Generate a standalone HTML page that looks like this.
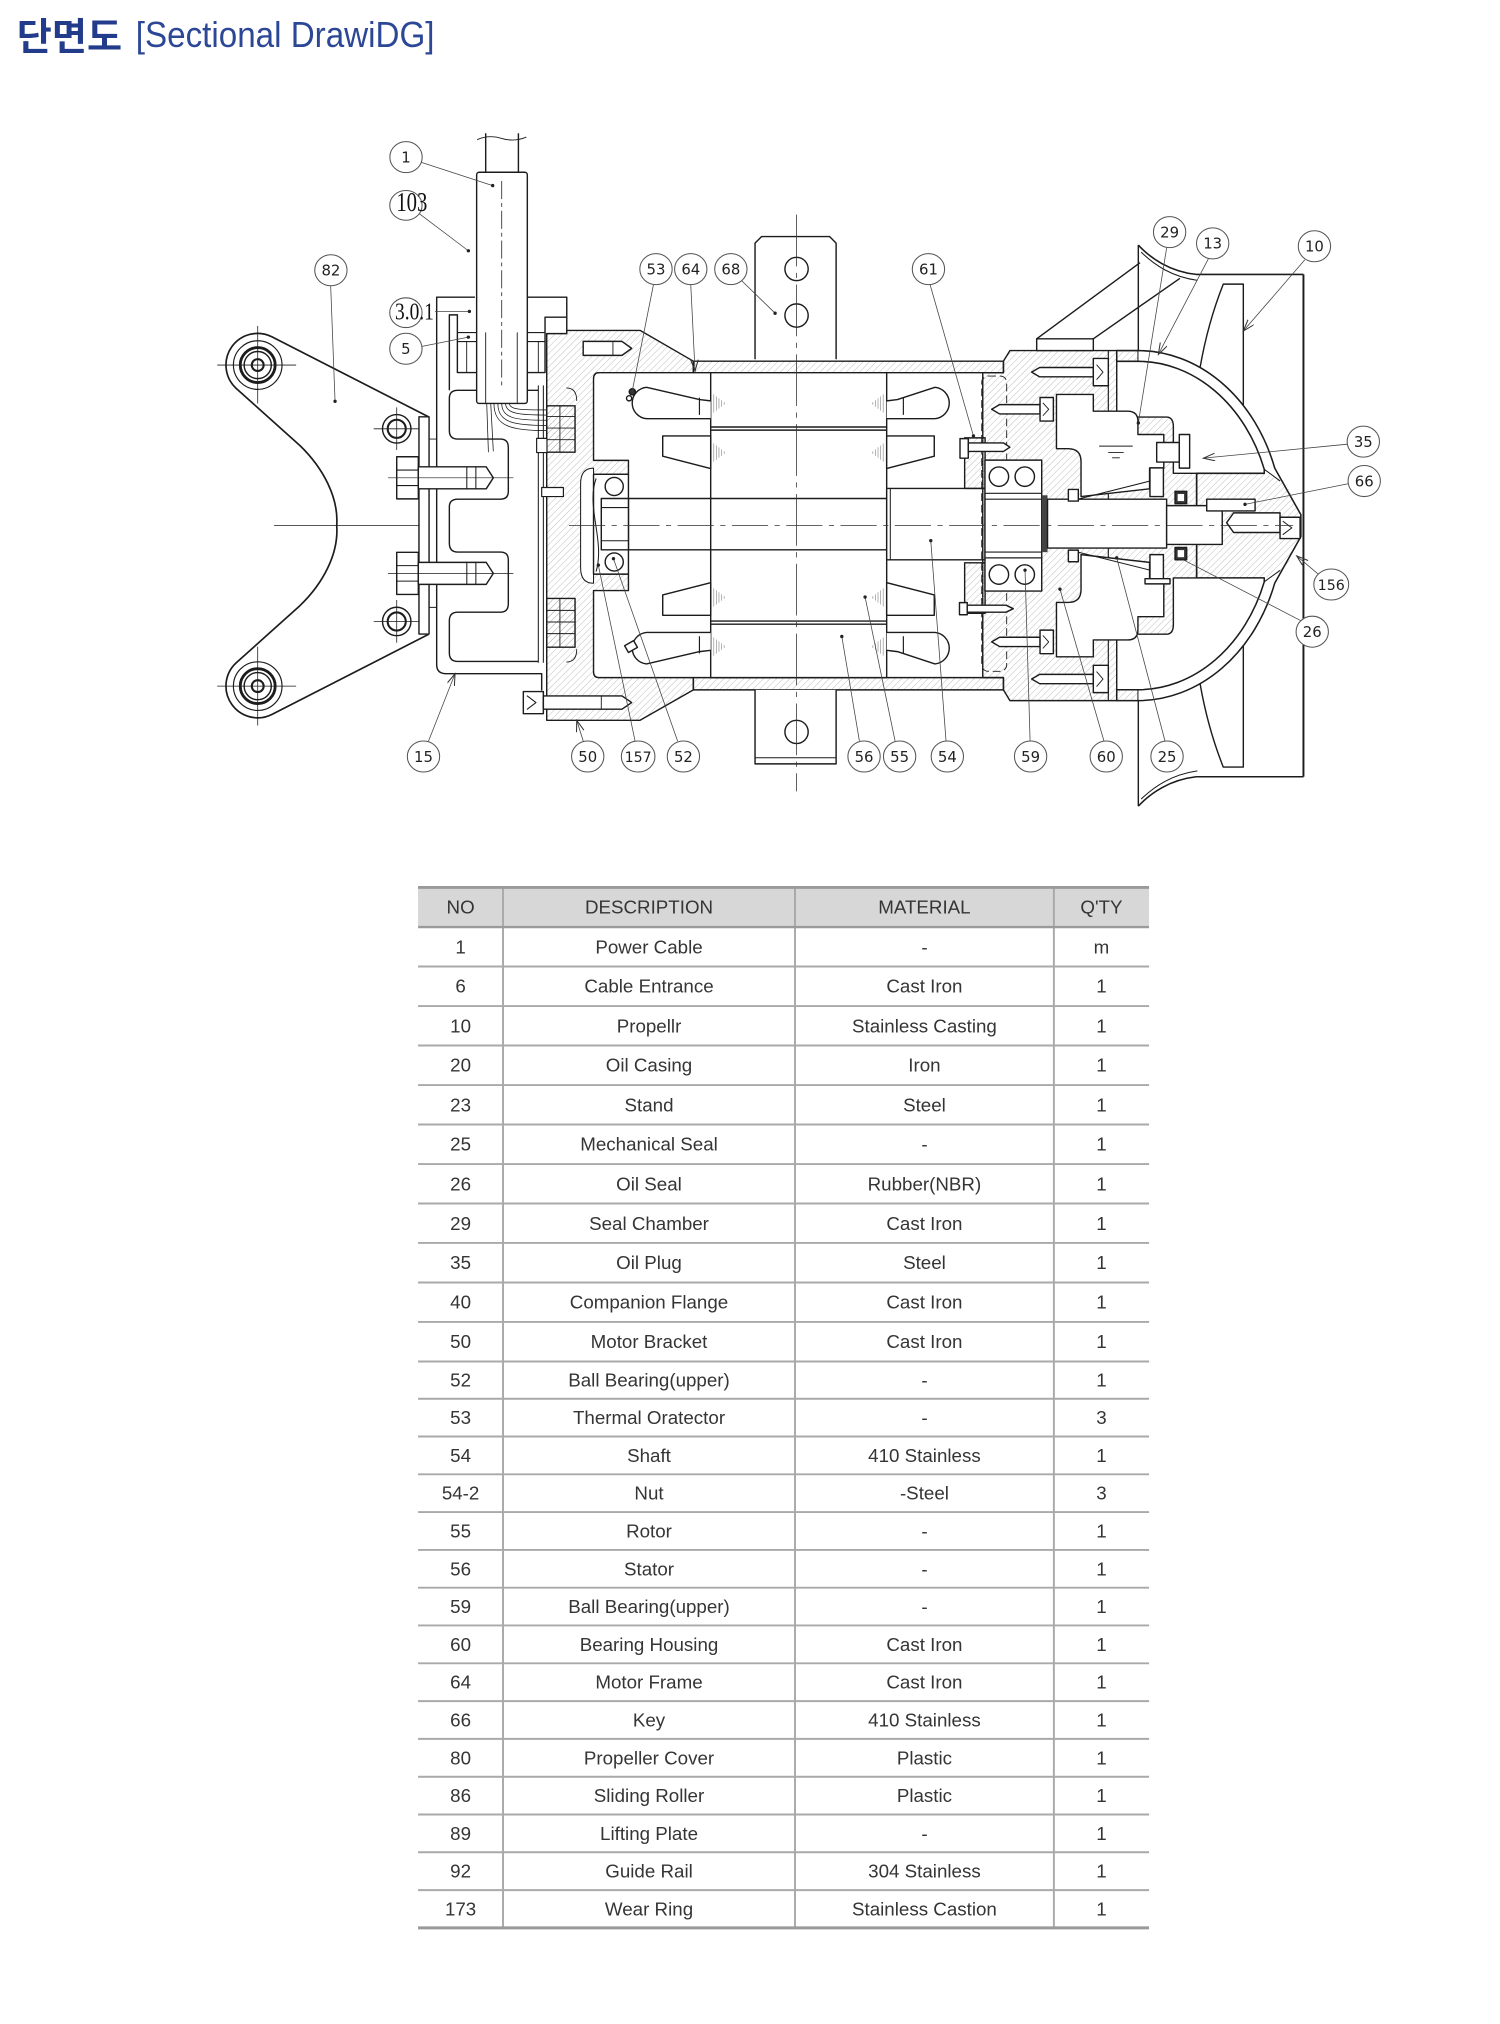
<!DOCTYPE html>
<html><head><meta charset="utf-8"><style>
html,body{margin:0;padding:0;background:#fff;}
svg{display:block;}
</style></head><body>
<svg xmlns="http://www.w3.org/2000/svg" width="1500" height="2024" viewBox="0 0 1160 1565.2">
<defs>
<pattern id="h" width="3.6" height="3.6" patternUnits="userSpaceOnUse" patternTransform="rotate(45)"><line x1="0" y1="0" x2="0" y2="3.6" stroke="#9c9c9c" stroke-width="0.5"/></pattern>
<marker id="ar" markerWidth="10" markerHeight="8" refX="9" refY="3" orient="auto" markerUnits="userSpaceOnUse"><path d="M0,0 L9,3 L0,6" fill="none" stroke="#333" stroke-width="0.8"/></marker>
</defs>
<rect x="0" y="0" width="1160" height="1565.2" fill="#fff"/>

<!-- Title -->
<text x="13" y="38.5" font-family="'Liberation Sans','Noto Sans CJK KR',sans-serif" font-weight="bold" font-size="29.5" fill="#233b8b">단면도</text>
<text x="105" y="36.3" font-family="'Liberation Sans','Noto Sans CJK KR',sans-serif" font-size="28" fill="#2c4796" textLength="231" lengthAdjust="spacingAndGlyphs">[Sectional DrawiDG]</text>

<!-- ================= DIAGRAM ================= -->
<g fill="none" stroke="#1c1c1c" stroke-width="1.1" stroke-linejoin="round">

<!-- Bracket 82 -->
<path d="M331.3,322.3 L210.4,260.5 A24.5,24.5 0 0 0 182.4,300.1 L232,344.6 C250,362 262,385 260.4,406.4 C262,428 250,451 232,468.3 L182.4,512.8 A24.5,24.5 0 0 0 210.4,552.4 L331.3,490.6" stroke-width="1.3"/>
<g>
<circle cx="199.3" cy="282.3" r="18.8" stroke-width="0.9"/>
<circle cx="199.3" cy="282.3" r="13.5" stroke-width="2.2"/>
<circle cx="199.3" cy="282.3" r="10.5"/>
<circle cx="199.3" cy="282.3" r="4.6" stroke-width="1.6"/>
<circle cx="199.3" cy="530.6" r="18.8" stroke-width="0.9"/>
<circle cx="199.3" cy="530.6" r="13.5" stroke-width="2.2"/>
<circle cx="199.3" cy="530.6" r="10.5"/>
<circle cx="199.3" cy="530.6" r="4.6" stroke-width="1.6"/>
<circle cx="306.8" cy="331.6" r="11"/>
<circle cx="306.8" cy="331.6" r="7" stroke-width="1.6"/>
<circle cx="306.8" cy="480.6" r="11"/>
<circle cx="306.8" cy="480.6" r="7" stroke-width="1.6"/>
</g>
<g stroke-width="0.6">
<path d="M168,282.3 H229 M199.3,252 V312 M168,530.6 H229 M199.3,500 V561"/>
<path d="M289,331.6 H324 M306.8,315 V348 M289,480.6 H324 M306.8,464 V497"/>
<path d="M212,406.4 H324"/>
</g>

<!-- guide plate -->
<rect x="324" y="322.3" width="7.8" height="168" fill="#fff"/>

<!-- Cover 15 -->
<path d="M367.3,229.8 H337.7 V514 Q337.7,521 345,521 H418.9 V534"/>
<path d="M407.8,229.8 H438.3 V258"/>
<path d="M347.5,301.8 V243.5 H353.7 V288.1 H368.6"/>
<path d="M407.8,288.1 H421.5 V245.3 H438.3"/>
<path d="M353.7,257.2 H421.5 M353.7,264.1 H421.5" stroke-width="0.9"/>
<path d="M360.9,264.1 V288.1 M416.3,264.1 V288.1" stroke-width="0.7"/>
<path d="M416.3,301.8 H354 Q347.5,301.8 347.5,308 V333 Q347.5,339.5 354,339.5 H387 Q393.1,339.5 393.1,346 V380 Q393.1,386 387,386 H354 Q347.5,386 347.5,392 V420 Q347.5,426.9 354,426.9 H387 Q393.1,426.9 393.1,433 V467 Q393.1,473.4 387,473.4 H354 Q347.5,473.4 347.5,480 V505 Q347.5,511.5 354,511.5 H416.3"/>
<path d="M331.8,339.5 H337.7 M331.8,469.7 H337.7" stroke-width="0.7"/>

<!-- Motor bracket 50 (hatched) -->
<path d="M438.3,255.5 H495 L536.2,279.3 V288.2 H463 Q459,288.2 459,293 V356 H486 V366.8 H459 V444 H486 V456.7 H459 V519.5 Q459,524 463,524 H536.2 V533.5 L495,557 H422.8 V258 H438.3 Z" fill="url(#h)"/>
<path d="M416.3,298 V512.5 M420.2,298 V512.5" stroke-width="0.8"/>
<path d="M459,362 Q449,362 449,374 V439 Q449,451 459,451 Z" fill="#fff" stroke-width="0.8"/>
<path d="M438,300 Q446,300 446,310 M438,512 Q446,512 446,502" stroke-width="0.7"/>

<!-- terminal blocks -->
<rect x="422.8" y="313.8" width="21.9" height="35.9" fill="url(#h)"/>
<path d="M422.8,322 H444.7 M422.8,331 H444.7 M422.8,340 H444.7 M433,313.8 V349.7" stroke-width="0.7"/>
<rect x="422.8" y="462.8" width="21.9" height="37.7" fill="url(#h)"/>
<path d="M422.8,472 H444.7 M422.8,481 H444.7 M422.8,490 H444.7 M433,462.8 V500.5" stroke-width="0.7"/>
<rect x="415" y="339" width="8" height="11" fill="#fff" stroke-width="0.9"/>
<rect x="418.9" y="377" width="16.8" height="7" fill="#fff" stroke-width="0.9"/>

<!-- cable -->
<path d="M375.6,103 V133.2 M400.9,103 V133.2"/>
<path d="M369,108 Q378,104 388,107 T407,106" stroke-width="0.7"/>
<rect x="368.6" y="133.2" width="39.2" height="178.8" rx="2" fill="#fff"/>
<path d="M375.6,257 V312 M400,257 V312" stroke-width="0.7"/>
<path d="M388,140 V300" stroke-width="0.6" stroke-dasharray="14 3 3 3"/>
<g stroke-width="0.6">
<path d="M382,312 C382,330 396,333 423,333"/>
<path d="M385,312 C385,327 398,329 423,329"/>
<path d="M388,312 C388,324 400,325 423,325"/>
<path d="M391,312 C391,320 402,321 423,321"/>
<path d="M394,312 C394,317 404,317 423,317"/>
<path d="M376.4,312 L377.7,349.7 M379.5,312 L381.5,349"/>
</g>

<!-- cover bolts -->
<g fill="#fff">
<rect x="306.8" y="353.2" width="16.7" height="32.6"/>
<path d="M306.8,363.5 H323.5 M306.8,375.5 H323.5" stroke-width="0.8"/>
<path d="M323.5,361 H368 L376,361 L381.5,369.5 L376,378 H323.5 Z"/>
<path d="M361,361 V378 M368,361 V378" stroke-width="0.8"/>
<rect x="306.8" y="427.1" width="16.7" height="32.6"/>
<path d="M306.8,437.4 H323.5 M306.8,449.4 H323.5" stroke-width="0.8"/>
<path d="M323.5,434.9 H368 L376,434.9 L381.5,443.4 L376,451.9 H323.5 Z"/>
<path d="M361,434.9 V451.9 M368,434.9 V451.9" stroke-width="0.8"/>
</g>
<path d="M300,369.5 H397 M300,443.4 H397" stroke-width="0.5"/>

<!-- bracket bolts -->
<path d="M451,264 H481 L488.5,269.4 L481,274.8 H451 Z" fill="#fff"/>
<path d="M474,264 V274.8" stroke-width="0.7"/>
<rect x="404.7" y="534.8" width="15.5" height="17.1" fill="#fff"/>
<path d="M407.5,538 L414.5,543.3 L407.5,548.6" stroke-width="0.8"/>
<path d="M420.2,538.2 H481 L488.5,543.3 L481,548.4 H420.2 Z" fill="#fff"/>
<path d="M465,538.2 V548.4" stroke-width="0.7"/>

<!-- Bearing 52 -->
<rect x="459" y="366.8" width="27" height="77.1" fill="#fff"/>
<circle cx="475" cy="376.2" r="7"/>
<circle cx="475" cy="434.6" r="7"/>
<rect x="465" y="385.5" width="21" height="39.7" fill="#fff"/>
<path d="M465,392.5 H486 M465,418.2 H486" stroke-width="0.8"/>
<path d="M461,370 C453,392 468,418 461,442" stroke-width="0.8"/>

<!-- Frame bands -->
<path d="M536.2,279.3 H776 V288.2 H536.2 Z" fill="url(#h)"/>
<path d="M536.2,524 H776 V533.5 H536.2 Z" fill="url(#h)"/>

<!-- Lifting plates -->
<path d="M583.9,277.8 V188 L589,182.9 H641.5 L646.6,188 V277.8" fill="#fff"/>
<circle cx="616" cy="208" r="9"/>
<circle cx="616" cy="244" r="9"/>
<path d="M583.9,533.5 V590.7 H646.6 V533.5" fill="#fff"/>
<path d="M583.9,586 H646.6" stroke-width="0.8"/>
<circle cx="616" cy="566" r="9"/>

<!-- Stator / rotor -->
<rect x="549.6" y="288.2" width="136.1" height="235.8" fill="#fff"/>
<path d="M549.6,330.2 H685.7 M549.6,332.6 H685.7 M549.6,480.3 H685.7 M549.6,482.7 H685.7"/>
<path d="M486,385.5 H685.7 M486,425.2 H685.7"/>
<rect x="685.7" y="377.7" width="76.1" height="55.2" fill="#fff"/>
<path d="M688.5,377.7 V432.9" stroke-width="0.8"/>

<!-- coils -->
<g fill="#fff">
<path d="M549.6,310 L541,309 L500,299.5 A12.2,12.2 0 0 0 500,323.8 H549.6"/>
<path d="M685.7,310 L694,309 L723,299.5 A12.2,12.2 0 0 1 723,323.8 H685.7"/>
<path d="M549.6,502.9 L541,503.9 L500,513.4 A12.2,12.2 0 0 1 500,489.1 H549.6"/>
<path d="M685.7,502.9 L694,503.9 L723,513.4 A12.2,12.2 0 0 0 723,489.1 H685.7"/>
<path d="M512.5,337.1 H549.6 V362.3 L512.5,352.8 Z"/>
<path d="M685.7,337.1 H722.5 V352.8 L685.7,362.3 Z"/>
<path d="M512.5,475.8 H549.6 V450.6 L512.5,460.1 Z"/>
<path d="M685.7,475.8 H722.5 V460.1 L685.7,450.6 Z"/>
</g>
<path d="M540.9,307.5 V320.8 M698.6,307.5 V320.8 M540.9,492 V505.3 M698.6,492 V505.3" stroke-width="0.9"/>
<g stroke="#8a8a8a" stroke-width="0.5">
<path d="M552,305 V319 M554,306.5 V317.5 M556,308 V316 M558,309.5 V314.5 M560,311 V313"/>
<path d="M552,343 V357 M554,344.5 V355.5 M556,346 V354 M558,347.5 V352.5 M560,349 V351"/>
<path d="M552,455 V469 M554,456.5 V467.5 M556,458 V466 M558,459.5 V464.5 M560,461 V463"/>
<path d="M552,493 V507 M554,494.5 V505.5 M556,496 V504 M558,497.5 V502.5 M560,499 V501"/>
<path d="M683,305 V319 M681,306.5 V317.5 M679,308 V316 M677,309.5 V314.5 M675,311 V313"/>
<path d="M683,343 V357 M681,344.5 V355.5 M679,346 V354 M677,347.5 V352.5 M675,349 V351"/>
<path d="M683,455 V469 M681,456.5 V467.5 M679,458 V466 M677,459.5 V464.5 M675,461 V463"/>
<path d="M683,493 V507 M681,494.5 V505.5 M679,496 V504 M677,497.5 V502.5 M675,499 V501"/>
</g>
<!-- thermal protector -->
<circle cx="489" cy="303" r="2.4" fill="#333"/>
<circle cx="486.5" cy="308" r="2"/>
<rect x="484" y="497" width="8" height="6" fill="#fff" transform="rotate(-30 488 500)"/>

<!-- Bearing housing + seal chamber (hatched) -->
<path d="M776,279.3 L781,271.1 H863.6 V322.5 H902 Q907.4,322.5 907.4,330 V366 H925.4 V446.9 H907.4 V482.9 Q907.4,490.4 902,490.4 H863.6 V541.8 H781 L776,533.5 V524 H760 V288.2 H776 Z" fill="url(#h)"/>
<rect x="746" y="338.6" width="15.8" height="39.1" fill="url(#h)"/>
<rect x="746" y="435.2" width="15.8" height="39.1" fill="url(#h)"/>
<path d="M857.1,271.1 V541.8" stroke-width="0.9"/>
<rect x="759.2" y="290.8" width="19.3" height="228.3" rx="5" stroke-width="0.7" stroke-dasharray="6 3"/>

<!-- oil chambers -->
<path d="M817,305 H845.5 V318 H872 Q880,318 880,326 V336 H900 V362 H889 V378 L836,384 V357 Q836,347 826,347 H817 Z" fill="#fff"/>
<path d="M817,507.9 H845.5 V494.9 H872 Q880,494.9 880,486.9 V476.9 H900 V450.9 H889 V434.9 L836,428.9 V455.9 Q836,465.9 826,465.9 H817 Z" fill="#fff"/>
<path d="M850,345 H876 M857,350 H869 M860,354 H866" stroke-width="0.7"/>

<!-- Hub (propeller boss 13) -->
<path d="M925.4,366 H977.7 L993.8,372 L1006,398 V415 L993.8,441 L977.7,446.9 H925.4 Z" fill="url(#h)" stroke="none"/>
<path d="M863.6,271.1 H880 A112,135 0 0 1 985.8,362 L1006,398 V415 L985.8,450.9 A112,135 0 0 1 880,541.8 H863.6 V533.4 H880 A104,127 0 0 0 977.7,449.9 V446.9 H925.4 V366 H977.7 V362.9 A104,127 0 0 0 880,279.4 H863.6 Z" stroke-width="1.2"/>
<path d="M863.6,271.1 H880 V279.4 H863.6 Z M863.6,533.4 H880 V541.8 H863.6 Z" fill="url(#h)" stroke-width="0.8"/>
<path d="M977.7,362.9 L990,372 M977.7,449.9 L990,441" stroke-width="0.8"/>

<!-- Bearing 59 -->
<rect x="761.7" y="355.8" width="43.9" height="101.3" fill="#fff"/>
<path d="M761.7,381.5 H805.6 M761.7,431.4 H805.6 M761.7,386 H805.6 M761.7,426.9 H805.6" stroke-width="0.9"/>
<circle cx="772.5" cy="368.6" r="7.5"/>
<circle cx="792.5" cy="368.6" r="7.5"/>
<circle cx="772.5" cy="444.3" r="7.5"/>
<circle cx="792.5" cy="444.3" r="7.5"/>
<rect x="805.6" y="383" width="4.5" height="44" fill="#444" stroke="none"/>

<!-- shaft right -->
<rect x="810.1" y="386" width="92.1" height="37.8" fill="#fff"/>
<rect x="902.2" y="391" width="43" height="30" fill="#fff"/>

<!-- mechanical seal -->
<rect x="889.3" y="361.8" width="10.4" height="22.2" fill="#fff"/>
<rect x="889.3" y="428.9" width="10.4" height="22.2" fill="#fff"/>
<path d="M827.5,387.5 L889.3,372 M827.5,425.4 L889.3,440.9" stroke-width="0.8"/>
<rect x="826.2" y="378.5" width="7.7" height="9" fill="#fff"/>
<rect x="826.2" y="425.4" width="7.7" height="9" fill="#fff"/>

<!-- oil seal 26 -->
<rect x="908.7" y="380" width="9" height="9.5" fill="#333"/>
<rect x="910.7" y="382" width="5" height="5.5" fill="#fff" stroke="none"/>
<rect x="908.7" y="423.4" width="9" height="9.5" fill="#333"/>
<rect x="910.7" y="425.4" width="5" height="5.5" fill="#fff" stroke="none"/>

<!-- oil plug 35 -->
<rect x="894.5" y="342.2" width="17.5" height="15.1" fill="#fff"/>
<rect x="912" y="336" width="8" height="26" fill="#fff"/>

<!-- key & nose bolt -->
<rect x="933.2" y="386" width="37.4" height="9.1" fill="#fff"/>
<path d="M948.6,404.2 L954,396.6 H989.9 V411.8 H954 Z" fill="#fff"/>
<rect x="989.9" y="400" width="15.5" height="16.5" fill="#fff"/>
<path d="M992,403 L999,408.2 L992,413.5" stroke-width="0.8"/>

<!-- housing bolts -->
<g fill="#fff">
<path d="M797.8,287.8 L804,284.2 H845.5 V291.4 H804 Z"/>
<rect x="845.5" y="277.2" width="11.6" height="21.1"/>
<path d="M766.9,316.5 L773,312.9 H804.3 V320.1 H773 Z"/>
<rect x="804.3" y="307.4" width="10.3" height="18.2"/>
<rect x="742.4" y="339.2" width="6.4" height="15.1"/>
<path d="M748.8,342.5 H776 L781,345.8 L776,349.1 H748.8 Z"/>
<rect x="742" y="466" width="6" height="9.4"/>
<path d="M748,468 H778 L783.6,470.7 L778,473.4 H748 Z"/>
<path d="M766.9,496.4 L773,492.8 H804.3 V500 H773 Z"/>
<rect x="804.3" y="487.3" width="10.3" height="18.2"/>
<path d="M797.8,525.1 L804,521.5 H845.5 V528.7 H804 Z"/>
<rect x="845.5" y="514.5" width="11.6" height="21.1"/>
<path d="M885.5,447.5 H904.8 V451.5 H885.5 Z"/>
</g>
<path d="M848,282 L853,287.8 L848,293.6 M848,519.3 L853,525.1 L848,530.9 M806.5,311.5 L811,316.5 L806.5,321.5 M806.5,491.4 L811,496.4 L806.5,501.4" stroke-width="0.7"/>

<!-- stand & guard -->
<rect x="801.7" y="262" width="43.8" height="9.1" fill="#fff"/>
<path d="M801.7,262 L881.6,203.1 M845.5,262 L912.5,215.2"/>
<path d="M880.3,189.5 V271.1 M880.3,541.8 V623.4"/>
<path d="M880.3,189.5 C890,200 905,210 925,212.2 H1008" stroke-width="1.2"/>
<path d="M882.5,195 C893,205 906,214 926,216.8" stroke-width="0.8"/>
<path d="M880.3,623.4 C890,613 905,603 925,600.7 H1008" stroke-width="1.2"/>
<path d="M882.5,617.9 C893,608 906,599 926,596.1" stroke-width="0.8"/>
<path d="M1008,212.2 V600.7" stroke-width="1.5"/>
<path d="M928,284.5 Q934,250 946,219.7 H961.5 V313.8"/>
<path d="M928,528.4 Q934,563 946,593.2 H961.5 V499.1"/>
</g>

<!-- centerlines -->
<g fill="none" stroke="#333" stroke-width="0.6">
<path d="M440,406.4 H1000" stroke-dasharray="28 5 4 5"/>
<path d="M616,166 V612" stroke-dasharray="40 5 4 5"/>
</g>

<!-- Leaders -->
<g fill="none" stroke="#444" stroke-width="0.6">
<path d="M325,125.3 L381,143.5"/>
<path d="M323.5,164.7 L362.2,193.9"/>
<path d="M255.7,220.5 L259.1,310.3"/>
<path d="M336.4,240.8 L363,240.8"/>
<path d="M325.5,268 L362.2,260.7"/>
<path d="M505.3,220.3 L489,302"/>
<path d="M534.2,220.3 L537.5,287" marker-end="url(#ar)"/>
<path d="M573.5,217 L599.4,242.2"/>
<path d="M719.3,220.3 L752.8,337.1"/>
<path d="M902.2,191.7 L880.3,327.1"/>
<path d="M934.5,200 L895.8,274.1" marker-end="url(#ar)"/>
<path d="M1009,201 L961.5,256" marker-end="url(#ar)"/>
<path d="M1042,343.5 L930.6,354.3" marker-end="url(#ar)"/>
<path d="M1043,374 L962.8,390"/>
<path d="M1019.5,444 L1002.8,429.9" marker-end="url(#ar)"/>
<path d="M1006,480 L915.1,432.9"/>
<path d="M331.3,573.3 L351.9,521" marker-end="url(#ar)"/>
<path d="M451.1,573.3 L446,557" marker-end="url(#ar)"/>
<path d="M491.1,573 L462.7,437"/>
<path d="M524,573 L474.4,432"/>
<path d="M664.6,573 L651,492.2"/>
<path d="M692.2,573 L669,461.7"/>
<path d="M731.6,573 L719.8,418.1"/>
<path d="M796.6,573 L792.7,440.9"/>
<path d="M853.8,573.3 L819.7,455.6"/>
<path d="M901,573.3 L863.6,431.4"/>
</g>
<g fill="#222">
<circle cx="381" cy="143.5" r="1.3"/><circle cx="362.2" cy="193.9" r="1.3"/><circle cx="259.1" cy="310.3" r="1.3"/>
<circle cx="363" cy="240.8" r="1.3"/><circle cx="362.2" cy="260.7" r="1.3"/><circle cx="599.4" cy="242.2" r="1.3"/>
<circle cx="752.8" cy="337.1" r="1.3"/><circle cx="880.3" cy="327.1" r="1.3"/><circle cx="962.8" cy="390" r="1.3"/>
<circle cx="462.7" cy="437" r="1.3"/><circle cx="474.4" cy="432" r="1.3"/><circle cx="651" cy="492.2" r="1.3"/>
<circle cx="669" cy="461.7" r="1.3"/><circle cx="719.8" cy="418.1" r="1.3"/><circle cx="792.7" cy="440.9" r="1.3"/>
<circle cx="819.7" cy="455.6" r="1.3"/><circle cx="863.6" cy="431.4" r="1.3"/>
</g>

<!-- Balloons -->
<g fill="#fff" stroke="#555" stroke-width="0.8">
<ellipse cx="314" cy="121.5" rx="12.5" ry="12"/>
<ellipse cx="313.9" cy="158.8" rx="12.5" ry="11.5"/>
<ellipse cx="255.9" cy="209" rx="12.5" ry="12"/>
<ellipse cx="313.9" cy="241.8" rx="12.5" ry="11.5"/>
<ellipse cx="313.9" cy="269.7" rx="12.5" ry="12"/>
<ellipse cx="507.3" cy="208.1" rx="12.5" ry="12"/>
<ellipse cx="534.2" cy="208.1" rx="12.5" ry="12"/>
<ellipse cx="565.2" cy="208.1" rx="12.5" ry="12"/>
<ellipse cx="718" cy="208.1" rx="12.5" ry="12"/>
<ellipse cx="904.5" cy="179.5" rx="12.5" ry="12"/>
<ellipse cx="937.8" cy="188.2" rx="12.5" ry="12"/>
<ellipse cx="1016.5" cy="190.4" rx="12.5" ry="12"/>
<ellipse cx="1054.3" cy="341.5" rx="12.5" ry="12"/>
<ellipse cx="1055" cy="372" rx="12.5" ry="12"/>
<ellipse cx="1029.5" cy="452" rx="13.5" ry="12"/>
<ellipse cx="1014.8" cy="488.5" rx="12.5" ry="12"/>
<ellipse cx="327.5" cy="585" rx="12.5" ry="12"/>
<ellipse cx="454.5" cy="585" rx="12.5" ry="12"/>
<ellipse cx="493.5" cy="585" rx="13" ry="12"/>
<ellipse cx="528.5" cy="585" rx="12.5" ry="12"/>
<ellipse cx="668.2" cy="585" rx="12.5" ry="12"/>
<ellipse cx="695.7" cy="585" rx="12.5" ry="12"/>
<ellipse cx="732.6" cy="585" rx="12.5" ry="12"/>
<ellipse cx="797" cy="585" rx="12.5" ry="12"/>
<ellipse cx="855.5" cy="585" rx="12.5" ry="12"/>
<ellipse cx="902.5" cy="585" rx="12.5" ry="12"/>
</g>
<g font-family="'DejaVu Sans','Liberation Sans',sans-serif" font-size="11.5" fill="#222" text-anchor="middle">
<text x="314" y="125.6">1</text>
<text x="255.9" y="213.1">82</text>
<text x="313.9" y="273.8">5</text>
<text x="507.3" y="212.2">53</text>
<text x="534.2" y="212.2">64</text>
<text x="565.2" y="212.2">68</text>
<text x="718" y="212.2">61</text>
<text x="904.5" y="183.6">29</text>
<text x="937.8" y="192.3">13</text>
<text x="1016.5" y="194.5">10</text>
<text x="1054.3" y="345.6">35</text>
<text x="1055" y="376.1">66</text>
<text x="1029.5" y="456.1" font-size="11">156</text>
<text x="1014.8" y="492.6">26</text>
<text x="327.5" y="589.1">15</text>
<text x="454.5" y="589.1">50</text>
<text x="493.5" y="589.1" font-size="11">157</text>
<text x="528.5" y="589.1">52</text>
<text x="668.2" y="589.1">56</text>
<text x="695.7" y="589.1">55</text>
<text x="732.6" y="589.1">54</text>
<text x="797" y="589.1">59</text>
<text x="855.5" y="589.1">60</text>
<text x="902.5" y="589.1">25</text>
</g>
<g font-family="'Liberation Serif',serif" fill="#111">
<text x="306.5" y="163" font-size="21" textLength="24" lengthAdjust="spacingAndGlyphs">103</text>
<text x="305.5" y="247" font-size="19" textLength="30" lengthAdjust="spacingAndGlyphs">3.0.1</text>
</g>

<!-- ================= TABLE ================= -->
<rect x="323.3" y="686.3" width="565.3" height="30.6" fill="#d7d7d7"/>
<g stroke="#a9a9a9" stroke-width="1.5" fill="none">
<path d="M389,686.3 V1490.9 M614.8,686.3 V1490.9 M815,686.3 V1490.9"/>
<path d="M323.3,747.4 H888.6 M323.3,778 H888.6 M323.3,808.5 H888.6 M323.3,839.1 H888.6 M323.3,869.6 H888.6 M323.3,900.2 H888.6 M323.3,930.7 H888.6 M323.3,961.2 H888.6 M323.3,991.8 H888.6 M323.3,1022.3 H888.6 M323.3,1052.9 H888.6 M323.3,1081.7 H888.6 M323.3,1110.9 H888.6 M323.3,1140.1 H888.6 M323.3,1169.3 H888.6 M323.3,1198.6 H888.6 M323.3,1227.8 H888.6 M323.3,1257 H888.6 M323.3,1286.3 H888.6 M323.3,1315.5 H888.6 M323.3,1344.7 H888.6 M323.3,1374 H888.6 M323.3,1403.2 H888.6 M323.3,1432.4 H888.6 M323.3,1461.7 H888.6"/>
</g>
<g stroke="#9a9a9a" fill="none">
<path d="M323.3,686.3 H888.6" stroke-width="2.2"/>
<path d="M323.3,716.9 H888.6" stroke-width="1.8"/>
<path d="M323.3,1490.9 H888.6" stroke-width="2.3"/>
</g>
<g font-family="'Liberation Sans',Arial,sans-serif" font-size="14.5" fill="#353535" text-anchor="middle">
<text x="356.2" y="706.6">NO</text><text x="501.9" y="706.6">DESCRIPTION</text><text x="714.9" y="706.6">MATERIAL</text><text x="851.8" y="706.6">Q'TY</text>
<text x="356.2" y="737.2">1</text><text x="501.9" y="737.2">Power Cable</text><text x="714.9" y="737.2">-</text><text x="851.8" y="737.2">m</text>
<text x="356.2" y="767.7">6</text><text x="501.9" y="767.7">Cable Entrance</text><text x="714.9" y="767.7">Cast Iron</text><text x="851.8" y="767.7">1</text>
<text x="356.2" y="798.3">10</text><text x="501.9" y="798.3">Propellr</text><text x="714.9" y="798.3">Stainless Casting</text><text x="851.8" y="798.3">1</text>
<text x="356.2" y="828.8">20</text><text x="501.9" y="828.8">Oil Casing</text><text x="714.9" y="828.8">Iron</text><text x="851.8" y="828.8">1</text>
<text x="356.2" y="859.4">23</text><text x="501.9" y="859.4">Stand</text><text x="714.9" y="859.4">Steel</text><text x="851.8" y="859.4">1</text>
<text x="356.2" y="889.9">25</text><text x="501.9" y="889.9">Mechanical Seal</text><text x="714.9" y="889.9">-</text><text x="851.8" y="889.9">1</text>
<text x="356.2" y="920.5">26</text><text x="501.9" y="920.5">Oil Seal</text><text x="714.9" y="920.5">Rubber(NBR)</text><text x="851.8" y="920.5">1</text>
<text x="356.2" y="951">29</text><text x="501.9" y="951">Seal Chamber</text><text x="714.9" y="951">Cast Iron</text><text x="851.8" y="951">1</text>
<text x="356.2" y="981.5">35</text><text x="501.9" y="981.5">Oil Plug</text><text x="714.9" y="981.5">Steel</text><text x="851.8" y="981.5">1</text>
<text x="356.2" y="1012">40</text><text x="501.9" y="1012">Companion Flange</text><text x="714.9" y="1012">Cast Iron</text><text x="851.8" y="1012">1</text>
<text x="356.2" y="1042.6">50</text><text x="501.9" y="1042.6">Motor Bracket</text><text x="714.9" y="1042.6">Cast Iron</text><text x="851.8" y="1042.6">1</text>
<text x="356.2" y="1072.3">52</text><text x="501.9" y="1072.3">Ball Bearing(upper)</text><text x="714.9" y="1072.3">-</text><text x="851.8" y="1072.3">1</text>
<text x="356.2" y="1101.3">53</text><text x="501.9" y="1101.3">Thermal Oratector</text><text x="714.9" y="1101.3">-</text><text x="851.8" y="1101.3">3</text>
<text x="356.2" y="1130.5">54</text><text x="501.9" y="1130.5">Shaft</text><text x="714.9" y="1130.5">410 Stainless</text><text x="851.8" y="1130.5">1</text>
<text x="356.2" y="1159.7">54-2</text><text x="501.9" y="1159.7">Nut</text><text x="714.9" y="1159.7">-Steel</text><text x="851.8" y="1159.7">3</text>
<text x="356.2" y="1189">55</text><text x="501.9" y="1189">Rotor</text><text x="714.9" y="1189">-</text><text x="851.8" y="1189">1</text>
<text x="356.2" y="1218.2">56</text><text x="501.9" y="1218.2">Stator</text><text x="714.9" y="1218.2">-</text><text x="851.8" y="1218.2">1</text>
<text x="356.2" y="1247.4">59</text><text x="501.9" y="1247.4">Ball Bearing(upper)</text><text x="714.9" y="1247.4">-</text><text x="851.8" y="1247.4">1</text>
<text x="356.2" y="1276.7">60</text><text x="501.9" y="1276.7">Bearing Housing</text><text x="714.9" y="1276.7">Cast Iron</text><text x="851.8" y="1276.7">1</text>
<text x="356.2" y="1305.9">64</text><text x="501.9" y="1305.9">Motor Frame</text><text x="714.9" y="1305.9">Cast Iron</text><text x="851.8" y="1305.9">1</text>
<text x="356.2" y="1335.1">66</text><text x="501.9" y="1335.1">Key</text><text x="714.9" y="1335.1">410 Stainless</text><text x="851.8" y="1335.1">1</text>
<text x="356.2" y="1364.4">80</text><text x="501.9" y="1364.4">Propeller Cover</text><text x="714.9" y="1364.4">Plastic</text><text x="851.8" y="1364.4">1</text>
<text x="356.2" y="1393.6">86</text><text x="501.9" y="1393.6">Sliding Roller</text><text x="714.9" y="1393.6">Plastic</text><text x="851.8" y="1393.6">1</text>
<text x="356.2" y="1422.8">89</text><text x="501.9" y="1422.8">Lifting Plate</text><text x="714.9" y="1422.8">-</text><text x="851.8" y="1422.8">1</text>
<text x="356.2" y="1452">92</text><text x="501.9" y="1452">Guide Rail</text><text x="714.9" y="1452">304 Stainless</text><text x="851.8" y="1452">1</text>
<text x="356.2" y="1481.3">173</text><text x="501.9" y="1481.3">Wear Ring</text><text x="714.9" y="1481.3">Stainless Castion</text><text x="851.8" y="1481.3">1</text>
</g>
</svg>
</body></html>
